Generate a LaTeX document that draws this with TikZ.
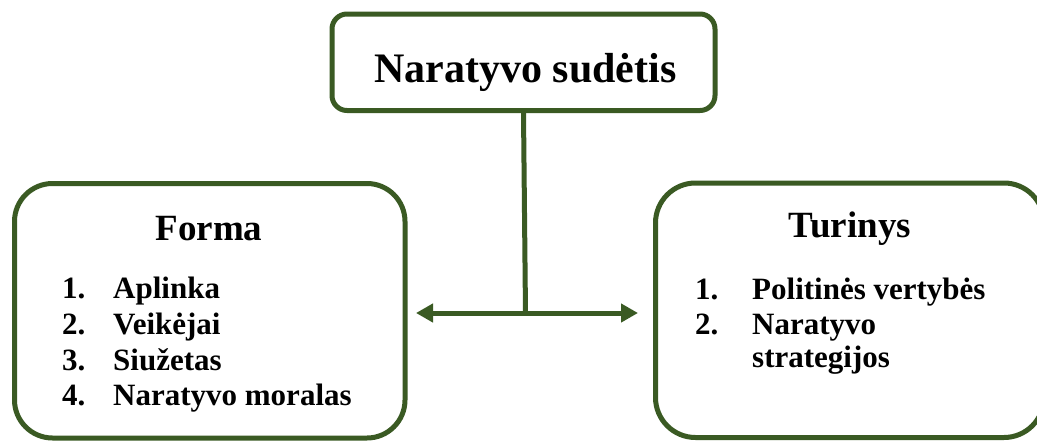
\documentclass[tikz,border=0pt]{standalone}
\usepackage{fontspec}
\setmainfont{Liberation Serif}
\usetikzlibrary{arrows.meta}
\definecolor{boxgreen}{RGB}{58,90,35}
\begin{document}
\begin{tikzpicture}[x=1pt,y=-1pt,
  frame/.style={draw=boxgreen,line width=5pt,fill=white},
  conn/.style={draw=boxgreen,line width=5pt},
  title/.style={font=\fontsize{42}{50}\selectfont\bfseries,anchor=base,inner sep=0pt},
  head/.style={font=\fontsize{37}{44}\selectfont\bfseries,anchor=base,inner sep=0pt},
  item/.style={font=\fontsize{31}{36}\selectfont\bfseries,anchor=base west,inner sep=0pt}]
\useasboundingbox (0,0) rectangle (1037,440);
\begin{scope}
\clip (0,0) rectangle (1037,440);
\draw[frame,rounded corners=38pt] (14.5,183.5) rectangle (405,438);
\draw[frame,rounded corners=40pt] (655.5,183) rectangle (1044,437.5);
\end{scope}
\node[frame,rounded corners=15pt,minimum width=383pt,minimum height=96.5pt,inner sep=0pt] (top) at (523.5,62.25) {};
\node[title] (tt) at (525.5,82) {Naratyvo sudėtis};
\coordinate (join) at (525.5,313);
\coordinate (la) at (416,313);
\coordinate (ra) at (638,313);
\draw[conn] (top.south) -- (join);
\draw[conn,{Triangle[length=17pt,width=18pt]}-{Triangle[length=17pt,width=18pt]}] (la) -- (ra);
% left box text
\node[head] (forma) at (209,240) {Forma};
\node[item] (l1n) at (62,298) {1.};
\node[item] (l1) at (113,298) {Aplinka};
\node[item] (l2n) at (62,334) {2.};
\node[item] (l2) at (113,334) {Veikėjai};
\node[item] (l3n) at (62,370) {3.};
\node[item] (l3) at (113,370) {Siužetas};
\node[item] (l4n) at (62,405) {4.};
\node[item] (l4) at (113,405) {Naratyvo moralas};
% right box text
\node[head] (turinys) at (850,237) {Turinys};
\node[item] (r1n) at (695,299) {1.};
\node[item] (r1) at (752,299) {Politinės vertybės};
\node[item] (r2n) at (695,334) {2.};
\node[item] (r2) at (752,334) {Naratyvo};
\node[item] (r3) at (752,367) {strategijos};
\end{tikzpicture}
\end{document}
